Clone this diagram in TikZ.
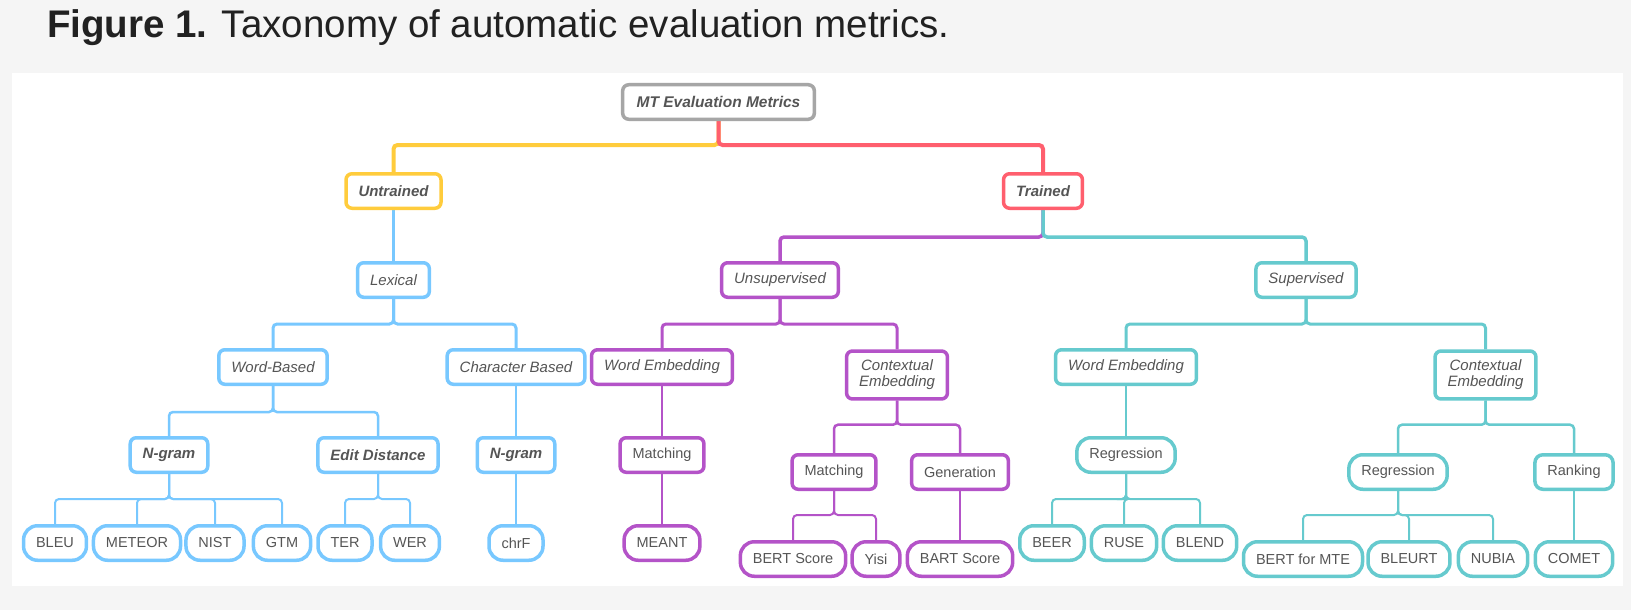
\documentclass[tikz,border=0pt]{standalone}
\usepackage{fontspec}
\setmainfont{Liberation Sans}
\usetikzlibrary{backgrounds}
\definecolor{cgrey}{HTML}{A6A6A6}
\definecolor{cyellow}{HTML}{FFCC3C}
\definecolor{cred}{HTML}{FF5F6E}
\definecolor{cblue}{HTML}{78C8FF}
\definecolor{cpurple}{HTML}{B453C8}
\definecolor{cteal}{HTML}{66CACE}
\definecolor{ctext}{HTML}{555555}
\definecolor{cpage}{HTML}{F5F5F5}
\tikzset{
  box/.style={draw=#1, fill=white, line width=3.5pt, rounded corners=6pt, text=ctext, align=center,
    inner xsep=12.5pt, inner ysep=9pt, minimum height=34.5pt, font=\fontsize{15}{16}\selectfont\itshape},
  box/.default=cgrey,
  boldbox/.style={box=#1, font=\fontsize{15}{16}\selectfont\bfseries\itshape},
  method/.style={box=#1, font=\fontsize{14.5}{16}\selectfont},
  metric/.style={method=#1, rounded corners=14pt},
  link/.style={draw=#1, rounded corners=4pt, line width=2pt},
}

\begin{document}
\begin{tikzpicture}[x=1pt, y=-1pt]
  \useasboundingbox (0,0) rectangle (1631,610);
  \node[anchor=base west, inner sep=0pt, text=black!87, font=\fontsize{38.5}{44}\selectfont] (title) at (47,38)
    {\textbf{Figure 1.} Taxonomy of automatic evaluation metrics.};
  % top levels
  \node[boldbox=cgrey, inner xsep=14pt, font=\fontsize{15.5}{17}\selectfont\bfseries\itshape] (mt) at (718.5,102) {MT Evaluation Metrics};
  \node[boldbox=cyellow] (untr) at (393.5,191) {Untrained};
  \node[boldbox=cred] (tr) at (1043,191) {Trained};
  \node[box=cblue] (lex) at (393.5,280) {Lexical};
  \node[box=cpurple] (unsup) at (780,280) {Unsupervised};
  \node[box=cteal] (sup) at (1306,280) {Supervised};
  % level 3
  \node[box=cblue] (wordb) at (273,367) {Word-Based};
  \node[box=cblue] (charb) at (516,367) {Character Based};
  \node[box=cpurple] (uwemb) at (662,367) {Word Embedding};
  \node[box=cpurple] (uctx) at (897,375) {Contextual\\Embedding};
  \node[box=cteal] (swemb) at (1126,367) {Word Embedding};
  \node[box=cteal] (sctx) at (1485.5,375) {Contextual\\Embedding};
  % level 4
  \node[boldbox=cblue] (ngram) at (169,455) {N-gram};
  \node[boldbox=cblue] (edit) at (378,455) {Edit Distance};
  \node[boldbox=cblue] (cngram) at (516,455) {N-gram};
  \node[method=cpurple] (umatch) at (662,455) {Matching};
  \node[method=cpurple] (cmatch) at (834,472) {Matching};
  \node[method=cpurple] (cgen) at (960,472) {Generation};
  \node[metric=cteal] (sreg) at (1126,455) {Regression};
  \node[metric=cteal] (creg) at (1398,472) {Regression};
  \node[method=cteal, rounded corners=8pt] (crank) at (1574,472) {Ranking};
  % metrics
  \foreach \n/\x/\t in {bleu/55/BLEU, meteor/137/METEOR, nist/215/NIST, gtm/282/GTM,
                        ter/345/TER, wer/410/WER, chrf/516/chrF}
    \node[metric=cblue] (\n) at (\x,543) {\t};
  \node[metric=cpurple] (meant) at (662,543) {MEANT};
  \foreach \n/\x/\t in {bertsc/793/BERT Score, yisi/876/Yisi, bartsc/960/BART Score}
    \node[metric=cpurple] (\n) at (\x,559) {\t};
  \foreach \n/\x/\t in {beer/1052/BEER, ruse/1124/RUSE, blend/1200/BLEND}
    \node[metric=cteal] (\n) at (\x,543) {\t};
  \foreach \n/\x/\t in {bertmte/1303/BERT for MTE, bleurt/1409/BLEURT, nubia/1493/NUBIA, comet/1574/COMET}
    \node[metric=cteal] (\n) at (\x,559) {\t};

  \begin{scope}[on background layer]
    \fill[cpage] (0,0) rectangle (1631,610);
    \fill[white] (12,73) rectangle (1623,586);
    % root and trained forks
    \draw[link=cyellow, line width=4pt] (mt.south) -- ++(0,24) -| (untr.north);
    \draw[link=cred, line width=4pt] (mt.south) -- ++(0,24) -| (tr.north);
    \draw[link=cblue, line width=3.5pt] (untr) -- (lex);
    \draw[link=cpurple, line width=3.5pt] (tr.south) -- ++(0,27) -| (unsup.north);
    \draw[link=cteal, line width=3.5pt] (tr.south) -- ++(0,27) -| (sup.north);
    % second level forks
    \foreach \c in {wordb,charb} \draw[link=cblue, line width=3pt] (lex.south) -- ++(0,25) -| (\c.north);
    \foreach \c in {uwemb,uctx} \draw[link=cpurple, line width=3pt] (unsup.south) -- ++(0,25) -| (\c.north);
    \foreach \c in {swemb,sctx} \draw[link=cteal, line width=3pt] (sup.south) -- ++(0,25) -| (\c.north);
    % third level
    \foreach \c in {ngram,edit} \draw[link=cblue, line width=2.5pt] (wordb.south) -- ++(0,26) -| (\c.north);
    \draw[link=cblue, line width=2.5pt] (charb) -- (cngram);
    \draw[link=cpurple] (uwemb) -- (umatch);
    \foreach \c in {cmatch,cgen} \draw[link=cpurple, line width=2.5pt] (uctx.south) -- ++(0,24) -| (\c.north);
    \draw[link=cteal] (swemb) -- (sreg);
    \foreach \c in {creg,crank} \draw[link=cteal, line width=2.5pt] (sctx.south) -- ++(0,24) -| (\c.north);
    % metric forks
    \foreach \c in {bleu,meteor,nist,gtm} \draw[link=cblue] (ngram.south) -- ++(0,25) -| (\c.north);
    \foreach \c in {ter,wer} \draw[link=cblue] (edit.south) -- ++(0,25) -| (\c.north);
    \draw[link=cblue] (cngram) -- (chrf);
    \draw[link=cpurple] (umatch) -- (meant);
    \foreach \c in {bertsc,yisi} \draw[link=cpurple] (cmatch.south) -- ++(0,24) -| (\c.north);
    \draw[link=cpurple] (cgen) -- (bartsc);
    \foreach \c in {beer,ruse,blend} \draw[link=cteal] (sreg.south) -- ++(0,25) -| (\c.north);
    \foreach \c in {bertmte,bleurt,nubia} \draw[link=cteal] (creg.south) -- ++(0,24) -| (\c.north);
    \draw[link=cteal] (crank) -- (comet);
  \end{scope}
\end{tikzpicture}
\end{document}
